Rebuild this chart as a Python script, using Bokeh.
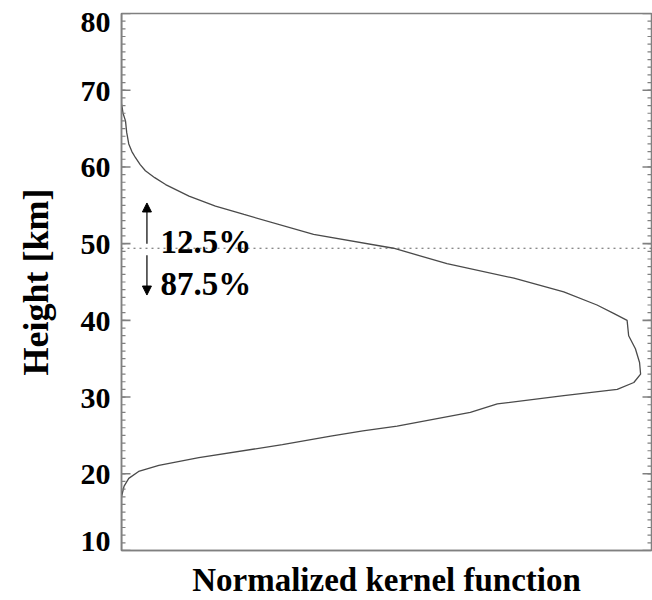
from bokeh.plotting import figure
from bokeh.models import (Range1d, Span, Arrow, NormalHead, Label,
                          FixedTicker, ColumnDataSource)
from bokeh.embed import file_html
from bokeh.resources import INLINE

# ---- data ----
height_km = [10.0, 17.0, 18.4, 19.4, 20.3, 21.1, 22.1, 23.8, 24.9, 25.6, 26.2,
             28.0, 29.1, 30.2, 31.0, 31.9, 33.0, 34.5, 36.3, 38.0, 40.0, 40.9,
             42.0, 43.7, 45.5, 47.4, 49.4, 51.2, 53.8, 54.9, 56.2, 57.7, 58.6,
             59.5, 60.3, 61.2, 62.0, 63.0, 64.5, 66.0, 67.0, 68.3, 80.0]
kernel = [0.0, 0.0, 0.005, 0.014, 0.033, 0.072, 0.149, 0.310, 0.403, 0.465, 0.531,
          0.672, 0.724, 0.852, 0.955, 0.987, 1.0, 0.998, 0.990, 0.977, 0.974, 0.948,
          0.916, 0.852, 0.756, 0.627, 0.524, 0.370, 0.236, 0.181, 0.130, 0.085, 0.064,
          0.046, 0.036, 0.027, 0.020, 0.014, 0.010, 0.0077, 0.003, 0.0, 0.0]
split_height = 49.4
upper_share = "12.5%"
lower_share = "87.5%"
y_ticks = [10, 20, 30, 40, 50, 60, 70, 80]
y_minor = list(range(10, 81))
x_title = "Normalized kernel function"
y_title = "Height [km]"
X_MAX = 1.021

FONT = "Liberation Serif"
FRAME = "#808080"
FRAME_PX = 530
MAJ = 9 * X_MAX / FRAME_PX   # tick lengths (9 px / 4 px) in x units
MIN = 4 * X_MAX / FRAME_PX

p = figure(width=652, height=600, output_backend="svg", toolbar_location=None,
           x_range=Range1d(0, X_MAX), y_range=Range1d(10, 80),
           min_border_left=121, min_border_right=1, min_border_top=13,
           min_border_bottom=40, background_fill_color="white",
           border_fill_color="white", outline_line_color=FRAME,
           outline_line_width=1.5)
p.grid.visible = False

src = ColumnDataSource(data=dict(x=kernel, y=height_km))
p.line("x", "y", source=src, line_color="#4a4a4a", line_width=1.3)

# inward ticks on left and right frame edges
n_min, n_maj = len(y_minor), len(y_ticks)
p.segment(x0=[0] * n_min, y0=y_minor, x1=[MIN] * n_min, y1=y_minor,
          line_color=FRAME, line_width=1.2)
p.segment(x0=[0] * n_maj, y0=y_ticks, x1=[MAJ] * n_maj, y1=y_ticks,
          line_color=FRAME, line_width=1.6)
p.segment(x0=[X_MAX] * n_min, y0=y_minor, x1=[X_MAX - MIN] * n_min, y1=y_minor,
          line_color=FRAME, line_width=1.2)
p.segment(x0=[X_MAX] * n_maj, y0=y_ticks, x1=[X_MAX - MAJ] * n_maj, y1=y_ticks,
          line_color=FRAME, line_width=1.6)

# left axis (end labels nudged inside the axis span, as in the reference)
ya = p.yaxis[0]
ya.ticker = FixedTicker(ticks=y_ticks)
ya.major_label_overrides = {y_ticks[-1]: "\n" + str(y_ticks[-1]),
                            y_ticks[0]: str(y_ticks[0]) + "\n\n\n\n"}
ya.major_label_text_line_height = 0.15
ya.axis_label = y_title
ya.axis_label_text_font = FONT
ya.axis_label_text_font_style = "bold"
ya.axis_label_text_font_size = "36px"
ya.axis_label_text_color = "black"
ya.axis_label_standoff = 22
ya.major_label_text_font = FONT
ya.major_label_text_font_style = "bold"
ya.major_label_text_font_size = "30px"
ya.major_label_text_color = "black"
ya.major_label_standoff = 11
ya.major_tick_in = 0
ya.major_tick_out = 0
ya.minor_tick_in = 0
ya.minor_tick_out = 0
ya.axis_line_color = FRAME
ya.axis_line_width = 1.5

# bottom axis: title only
xa = p.xaxis[0]
xa.ticker = FixedTicker(ticks=[])
xa.major_label_standoff = 0
xa.major_tick_in = 0
xa.major_tick_out = 0
xa.minor_tick_in = 0
xa.minor_tick_out = 0
xa.axis_line_color = FRAME
xa.axis_line_width = 1.5
xa.axis_label = x_title
xa.axis_label_text_font = FONT
xa.axis_label_text_font_style = "bold"
xa.axis_label_text_font_size = "33px"
xa.axis_label_text_color = "black"
xa.axis_label_standoff = 11

# split line
p.add_layout(Span(location=split_height, dimension="width", line_color="#606060",
                  line_width=1, line_dash="2 4"))

# arrows
p.add_layout(Arrow(x_start=0.049, y_start=50.0, x_end=0.049, y_end=55.3,
                   line_width=1.2, line_color="black",
                   end=NormalHead(size=9, fill_color="black", line_color="black")))
p.add_layout(Arrow(x_start=0.049, y_start=48.5, x_end=0.049, y_end=43.3,
                   line_width=1.2, line_color="black",
                   end=NormalHead(size=9, fill_color="black", line_color="black")))

p.add_layout(Label(x=0.075, y=50.2, text=upper_share, text_baseline="alphabetic",
                   text_font=FONT, text_font_style="bold", text_font_size="33px",
                   text_color="black"))
p.add_layout(Label(x=0.075, y=44.8, text=lower_share, text_baseline="alphabetic",
                   text_font=FONT, text_font_style="bold", text_font_size="33px",
                   text_color="black"))

open("out.html", "w").write(file_html(p, INLINE))
